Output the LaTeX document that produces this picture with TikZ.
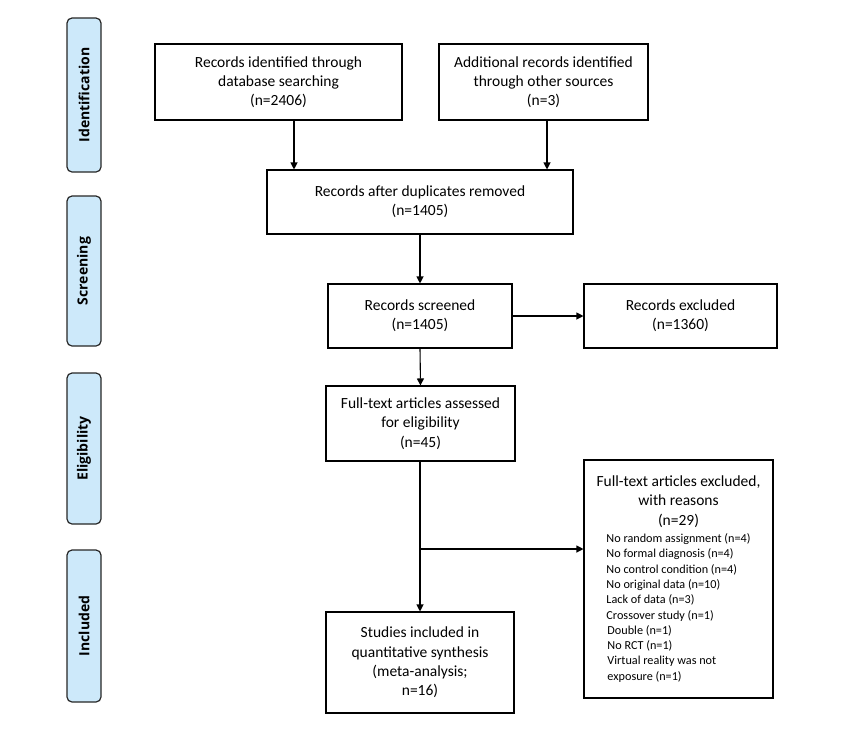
\documentclass[tikz,border=0pt]{standalone}
\usepackage{fontspec}
\setmainfont{Carlito}
\newfontfamily\labelfont{Open Sans}
\usetikzlibrary{arrows.meta}
\definecolor{phase}{HTML}{CDE9FA}
\tikzset{
  box/.style={draw=black, line width=1.1pt, rectangle, inner sep=0pt, align=center,
    font=\fontsize{15.5}{19.3}\selectfont},
  phasebox/.style={draw=black!85, fill=phase, line width=1.2pt, rounded corners=5pt,
    inner sep=0pt},
  phasetext/.style={rotate=90, font=\labelfont\bfseries\fontsize{14}{16}\selectfont},
  arr/.style={line width=1.1pt, -{Triangle[length=7pt,width=7pt]}}
}
\begin{document}
\begin{tikzpicture}[x=1pt,y=-1pt]
\useasboundingbox (0,0) rectangle (850,740);
% phase labels
\node[phasebox, minimum width=34pt, minimum height=154pt] (pid) at (84,95) {};
\node[phasetext] (tid) at (pid.center) {Identification};
\node[phasebox, minimum width=34pt, minimum height=150pt] (psc) at (84,271) {};
\node[phasetext] (tsc) at (psc.center) {Screening};
\node[phasebox, minimum width=34pt, minimum height=151pt] (pel) at (84,448.5) {};
\node[phasetext] (tel) at (pel.center) {Eligibility};
\node[phasebox, minimum width=34pt, minimum height=152pt] (pin) at (84,626) {};
\node[phasetext] (tin) at (pin.center) {Included};
% boxes
\node[box, minimum width=247pt, minimum height=76pt] (db) at (278.5,82) {Records identified through\\database searching\\(n=2406)};
\node[box, minimum width=209pt, minimum height=76pt] (add) at (543.5,82) {Additional records identified\\through other sources\\(n=3)};
\node[box, minimum width=306pt, minimum height=64pt] (dup) at (420,202) {Records after duplicates removed\\(n=1405)};
\node[box, minimum width=184pt, minimum height=64pt] (scr) at (420,316) {Records screened\\(n=1405)};
\node[box, minimum width=193pt, minimum height=64pt] (exc) at (680.5,316) {Records excluded\\(n=1360)};
\node[box, minimum width=189pt, minimum height=75pt] (ft) at (420.5,423.5) {Full-text articles assessed\\for eligibility\\(n=45)};
\node[box, minimum width=189pt, minimum height=238pt] (ftx) at (678.5,579)
 {\begin{tabular}{@{}c@{}}Full-text articles excluded,\\with reasons\\(n=29)\\[-2pt]
  {\fontsize{12.2}{15.3}\selectfont\begin{tabular}[t]{@{}l@{}}
  No random assignment (n=4)\\
  No formal diagnosis (n=4)\\
  No control condition (n=4)\\
  No original data (n=10)\\
  Lack of data (n=3)\\
  Crossover study (n=1)\\
  \hspace*{1pt}Double (n=1)\\
  \hspace*{1pt}No RCT (n=1)\\
  \hspace*{1pt}Virtual reality was not\\
  \hspace*{1pt}exposure (n=1)
  \end{tabular}}\end{tabular}};
\node[box, minimum width=188pt, minimum height=101pt] (inc) at (420,662.5) {Studies included in\\quantitative synthesis\\(meta-analysis;\\n=16)};
% connectors
\draw[arr] (db.south -| 294,0) -- (dup.north -| 294,0);
\draw[arr] (add.south -| 547,0) -- (dup.north -| 547,0);
\draw[arr] (dup.south) -- (scr.north);
\draw[arr] (scr.east) -- (exc.west);
\draw[arr] (scr.south) -- (ft.north);
\draw[arr] (ft.south -| inc.north) -- (inc.north);
\coordinate (br) at (420,549);
\draw[arr] (br) -- (ftx.west |- br);
\end{tikzpicture}
\end{document}
